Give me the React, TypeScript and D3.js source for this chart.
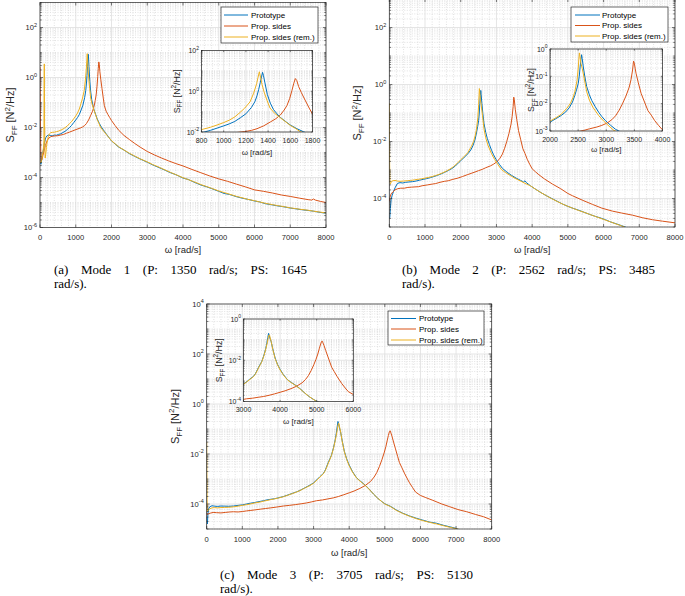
import React, { useEffect, useRef } from "react";
import * as d3 from "d3";

type Pt = [number, number];

// ---------- Mode 1 ----------
const mode1Prototype: Pt[] = [
  [0, 4.2e-4], [15, 3.6e-4], [30, 3.4e-4], [50, 5.5e-4], [75, 9e-4], [100, 1.4e-3], [130, 2.6e-3], [160, 3.9e-3],
  [200, 4.7e-3], [240, 5.0e-3], [290, 4.8e-3], [340, 4.6e-3], [400, 5.0e-3], [460, 4.9e-3], [520, 5.3e-3],
  [580, 5.6e-3], [640, 6.3e-3], [700, 7.0e-3], [760, 8.2e-3], [820, 9.8e-3], [880, 1.2e-2], [940, 1.55e-2],
  [1000, 2.0e-2], [1050, 2.5e-2], [1100, 3.3e-2], [1150, 5.0e-2], [1200, 7.8e-2], [1250, 0.16], [1280, 0.3],
  [1300, 0.6], [1315, 1.2], [1330, 2.8], [1342, 5.5], [1350, 8.5], [1358, 6.0], [1370, 2.8], [1393, 0.7],
  [1420, 0.26], [1447, 0.13], [1480, 0.078], [1510, 0.052], [1560, 0.032], [1600, 0.022], [1660, 0.0145],
  [1720, 0.0102], [1800, 7.0e-3], [1900, 4.5e-3], [2000, 2.9e-3], [2100, 2.2e-3], [2200, 1.65e-3],
  [2350, 1.25e-3], [2500, 9.0e-4], [2650, 7.0e-4], [2800, 5.5e-4], [3000, 4.1e-4], [3150, 3.2e-4],
  [3300, 2.6e-4], [3500, 1.95e-4], [3650, 1.55e-4], [3800, 1.3e-4], [4000, 9.5e-5], [4150, 8.3e-5],
  [4300, 6.6e-5], [4500, 5.0e-5], [4650, 4.3e-5], [4800, 3.6e-5], [5000, 2.8e-5], [5150, 2.3e-5],
  [5300, 2.1e-5], [5500, 1.7e-5], [5650, 1.5e-5], [5800, 1.35e-5], [6000, 1.15e-5], [6150, 1.05e-5],
  [6300, 9.0e-6], [6500, 8.0e-6], [6650, 7.3e-6], [6800, 6.8e-6], [7000, 6.0e-6], [7150, 5.6e-6],
  [7300, 5.2e-6], [7500, 4.8e-6], [7650, 4.5e-6], [7800, 4.1e-6], [8000, 3.7e-6],
];
const mode1PropSides: Pt[] = [
  [0, 2.6], [6, 0.3], [12, 0.02], [20, 1.5e-3], [30, 4.5e-4], [50, 5.0e-4], [80, 7.5e-4], [110, 1.1e-3],
  [150, 1.9e-3], [200, 3.0e-3], [250, 3.8e-3], [300, 4.3e-3], [360, 4.5e-3], [420, 4.6e-3], [500, 4.7e-3],
  [580, 5.0e-3], [660, 5.3e-3], [740, 5.9e-3], [820, 6.5e-3], [900, 7.2e-3], [980, 8.0e-3], [1060, 8.8e-3],
  [1130, 9.6e-3], [1190, 1.05e-2], [1250, 1.2e-2], [1300, 1.45e-2], [1360, 2.0e-2], [1420, 3.1e-2],
  [1470, 4.5e-2], [1510, 6.8e-2], [1545, 0.12], [1570, 0.2], [1595, 0.45], [1615, 1.1], [1630, 2.3],
  [1645, 4.2], [1658, 3.4], [1675, 1.7], [1700, 0.85], [1733, 0.37], [1770, 0.15], [1800, 0.075],
  [1850, 0.045], [1900, 0.033], [1950, 0.025], [2000, 0.019], [2100, 1.2e-2], [2200, 7.8e-3], [2350, 4.8e-3],
  [2500, 3.3e-3], [2650, 2.3e-3], [2800, 1.65e-3], [3000, 1.1e-3], [3200, 8.0e-4], [3400, 6.0e-4],
  [3600, 4.6e-4], [3800, 3.6e-4], [4000, 2.9e-4], [4250, 2.1e-4], [4500, 1.55e-4], [4750, 1.15e-4],
  [5000, 8.8e-5], [5250, 7.0e-5], [5500, 5.4e-5], [5750, 4.2e-5], [6000, 3.2e-5], [6250, 2.8e-5],
  [6500, 2.4e-5], [6750, 2.0e-5], [7000, 1.75e-5], [7250, 1.5e-5], [7500, 1.3e-5], [7600, 1.25e-5],
  [7650, 1.38e-5], [7700, 1.25e-5], [7850, 1.1e-5], [8000, 1.0e-5],
];
const mode1PropSidesRem: Pt[] = [
  [0, 4.6e-4], [20, 3.8e-4], [40, 4.6e-4], [60, 6.5e-4], [80, 1.0e-3], [100, 1.7e-3], [110, 3.0e-3],
  [115, 0.8], [120, 3.5], [124, 0.9], [128, 0.02], [135, 1.6e-3], [145, 6.0e-4], [160, 8.5e-4], [180, 1.6e-3],
  [200, 2.6e-3], [230, 4.2e-3], [260, 5.5e-3], [300, 6.2e-3], [350, 6.4e-3], [400, 6.5e-3], [460, 6.8e-3],
  [520, 7.2e-3], [580, 7.8e-3], [640, 8.6e-3], [700, 9.8e-3], [760, 1.15e-2], [820, 1.4e-2], [880, 1.7e-2],
  [940, 2.2e-2], [1000, 2.9e-2], [1050, 3.8e-2], [1100, 5.5e-2], [1146, 9.0e-2], [1190, 0.15], [1237, 0.3],
  [1270, 0.8], [1297, 2.4], [1310, 5.0], [1321, 9.0], [1332, 5.0], [1345, 2.2], [1363, 0.95], [1390, 0.36],
  [1417, 0.15], [1460, 0.082], [1508, 0.051], [1560, 0.031], [1600, 0.021], [1650, 0.0145], [1688, 0.0105],
  [1750, 8.0e-3], [1800, 6.6e-3], [1900, 4.4e-3], [2000, 2.95e-3], [2100, 2.25e-3], [2200, 1.7e-3],
  [2350, 1.25e-3], [2500, 9.3e-4], [2650, 7.2e-4], [2800, 5.6e-4], [3000, 4.2e-4], [3150, 3.3e-4],
  [3300, 2.7e-4], [3500, 2.0e-4], [3650, 1.6e-4], [3800, 1.3e-4], [4000, 9.8e-5], [4150, 8.2e-5],
  [4300, 6.8e-5], [4500, 5.2e-5], [4650, 4.4e-5], [4800, 3.7e-5], [5000, 2.9e-5], [5150, 2.5e-5],
  [5300, 2.15e-5], [5500, 1.75e-5], [5650, 1.55e-5], [5800, 1.35e-5], [6000, 1.18e-5], [6150, 1.05e-5],
  [6300, 9.3e-6], [6500, 8.2e-6], [6650, 7.5e-6], [6800, 6.9e-6], [7000, 6.1e-6], [7150, 5.7e-6],
  [7300, 5.3e-6], [7500, 4.9e-6], [7650, 4.5e-6], [7800, 4.2e-6], [8000, 3.8e-6],
];

// ---------- Mode 2 ----------
const mode2Prototype: Pt[] = [
  [0, 2.0e-5], [15, 2.2e-5], [30, 4.5e-5], [50, 9.0e-5], [80, 1.3e-4], [120, 1.8e-4], [170, 2.5e-4],
  [230, 3.4e-4], [300, 3.6e-4], [380, 3.5e-4], [460, 3.7e-4], [550, 3.8e-4], [650, 3.9e-4], [750, 4.1e-4],
  [850, 4.4e-4], [950, 4.7e-4], [1050, 5.0e-4], [1150, 5.4e-4], [1250, 5.9e-4], [1350, 6.5e-4], [1450, 7.3e-4],
  [1550, 8.3e-4], [1650, 9.6e-4], [1750, 1.12e-3], [1850, 1.38e-3], [1950, 1.85e-3], [2000, 2.1e-3],
  [2100, 2.8e-3], [2200, 3.7e-3], [2280, 5.0e-3], [2340, 7.0e-3], [2400, 1.15e-2], [2441, 2.0e-2],
  [2475, 3.4e-2], [2502, 5.5e-2], [2520, 0.1], [2535, 0.22], [2550, 0.42], [2562, 0.62], [2572, 0.45],
  [2592, 0.22], [2620, 0.095], [2653, 0.042], [2700, 0.021], [2743, 0.013], [2800, 8.0e-3], [2864, 4.9e-3],
  [2920, 3.4e-3], [2985, 2.4e-3], [3080, 1.6e-3], [3166, 1.15e-3], [3300, 8.3e-4], [3420, 6.5e-4],
  [3550, 5.2e-4], [3680, 4.3e-4], [3760, 3.8e-4], [3800, 4.2e-4], [3840, 3.6e-4], [3950, 2.8e-4],
  [4100, 2.1e-4], [4250, 1.6e-4], [4400, 1.25e-4], [4550, 1.0e-4], [4700, 8.0e-5], [4850, 6.4e-5],
  [5000, 5.3e-5], [5150, 4.5e-5], [5300, 3.9e-5], [5450, 3.3e-5], [5600, 2.8e-5], [5750, 2.4e-5],
  [5900, 2.1e-5], [6050, 1.8e-5], [6200, 1.5e-5], [6350, 1.3e-5], [6500, 1.12e-5], [6650, 9.5e-6],
];
const mode2PropSides: Pt[] = [
  [0, 8e-5], [20, 1.1e-4], [50, 1.45e-4], [100, 1.7e-4], [160, 2.0e-4], [230, 2.2e-4], [320, 2.3e-4],
  [420, 2.3e-4], [520, 2.45e-4], [620, 2.5e-4], [720, 2.55e-4], [820, 2.6e-4], [920, 2.8e-4], [1070, 3.0e-4],
  [1200, 3.2e-4], [1300, 3.35e-4], [1420, 3.7e-4], [1540, 4.0e-4], [1650, 4.2e-4], [1780, 4.7e-4],
  [1920, 5.2e-4], [2050, 5.9e-4], [2180, 6.8e-4], [2290, 7.6e-4], [2400, 8.5e-4], [2500, 9.5e-4],
  [2600, 1.05e-3], [2700, 1.2e-3], [2834, 1.4e-3], [2920, 1.6e-3], [3015, 1.95e-3], [3100, 2.6e-3],
  [3166, 3.6e-3], [3230, 5.8e-3], [3287, 9.8e-3], [3350, 1.9e-2], [3408, 4.0e-2], [3440, 7.5e-2],
  [3468, 0.17], [3485, 0.36], [3500, 0.3], [3515, 0.19], [3529, 0.13], [3570, 0.058], [3619, 0.024],
  [3680, 1.15e-2], [3740, 5.6e-3], [3800, 3.8e-3], [3861, 2.4e-3], [3930, 1.6e-3], [4000, 1.1e-3],
  [4100, 8.5e-4], [4190, 6.8e-4], [4350, 4.8e-4], [4570, 3.2e-4], [4800, 2.2e-4], [5000, 1.5e-4],
  [5130, 1.25e-4], [5400, 8.8e-5], [5690, 6.2e-5], [5950, 4.6e-5], [6250, 3.6e-5], [6500, 3.1e-5],
  [6810, 2.6e-5], [7100, 2.1e-5], [7370, 1.8e-5], [7650, 1.6e-5], [8000, 1.4e-5],
];
const mode2PropSidesRem: Pt[] = [
  [0, 0.22], [4, 0.02], [10, 1.5e-3], [18, 3.5e-4], [30, 3.2e-4], [60, 4.0e-4], [100, 4.2e-4], [160, 4.3e-4],
  [230, 4.1e-4], [300, 4.0e-4], [400, 4.1e-4], [500, 4.2e-4], [600, 4.3e-4], [700, 4.5e-4], [800, 4.7e-4],
  [900, 4.9e-4], [1000, 5.2e-4], [1100, 5.5e-4], [1200, 5.9e-4], [1300, 6.4e-4], [1400, 7.1e-4],
  [1500, 8.0e-4], [1600, 9.2e-4], [1700, 1.08e-3], [1800, 1.32e-3], [1900, 1.7e-3], [2000, 2.3e-3],
  [2100, 3.0e-3], [2200, 4.1e-3], [2300, 6.8e-3], [2360, 1.0e-2], [2410, 1.7e-2], [2441, 2.7e-2],
  [2480, 7.0e-2], [2502, 0.2], [2512, 0.4], [2522, 0.72], [2532, 0.55], [2550, 0.3], [2574, 0.19],
  [2610, 0.08], [2653, 0.027], [2700, 0.0135], [2760, 7.5e-3], [2864, 3.7e-3], [2950, 2.35e-3],
  [3050, 1.5e-3], [3136, 1.05e-3], [3250, 8.2e-4], [3380, 6.5e-4], [3520, 5.1e-4], [3660, 4.2e-4],
  [3800, 3.4e-4], [3950, 2.8e-4], [4100, 2.1e-4], [4250, 1.6e-4], [4400, 1.25e-4], [4550, 9.8e-5],
  [4700, 7.9e-5], [4850, 6.4e-5], [5000, 5.3e-5], [5150, 4.5e-5], [5300, 3.8e-5], [5450, 3.3e-5],
  [5600, 2.8e-5], [5750, 2.4e-5], [5900, 2.05e-5], [6050, 1.75e-5], [6200, 1.5e-5], [6350, 1.28e-5],
  [6500, 1.1e-5], [6620, 9.5e-6],
];

// ---------- Mode 3 ----------
const mode3Prototype: Pt[] = [
  [0, 3.0e-5], [10, 2.0e-5], [20, 1.6e-5], [35, 4.2e-5], [55, 6.5e-5], [90, 7.8e-5], [150, 8.5e-5],
  [220, 8.2e-5], [300, 8.0e-5], [400, 8.3e-5], [500, 8.2e-5], [620, 8.1e-5], [750, 8.3e-5], [880, 8.8e-5],
  [1000, 9.2e-5], [1120, 1.0e-4], [1220, 1.07e-4], [1350, 1.15e-4], [1500, 1.27e-4], [1600, 1.36e-4],
  [1690, 1.46e-4], [1800, 1.55e-4], [1900, 1.62e-4], [2000, 1.75e-4], [2150, 1.98e-4], [2280, 2.3e-4],
  [2400, 2.65e-4], [2520, 3.05e-4], [2620, 3.5e-4], [2750, 4.4e-4], [2900, 5.7e-4], [3000, 7.0e-4],
  [3100, 9.5e-4], [3180, 1.25e-3], [3273, 1.65e-3], [3330, 2.3e-3], [3410, 4.5e-3], [3460, 6.5e-3],
  [3500, 8.8e-3], [3560, 1.8e-2], [3609, 3.8e-2], [3640, 7.0e-2], [3665, 0.13], [3685, 0.2], [3700, 0.17],
  [3720, 0.12], [3755, 0.08], [3800, 0.036], [3864, 0.0128], [3930, 6.3e-3], [4000, 3.6e-3], [4091, 2.0e-3],
  [4200, 1.15e-3], [4300, 8.5e-4], [4409, 6.4e-4], [4550, 4.1e-4], [4682, 2.5e-4], [4800, 1.7e-4],
  [4900, 1.3e-4], [5000, 1.02e-4], [5150, 8.2e-5], [5320, 5.8e-5], [5500, 4.3e-5], [5700, 3.3e-5],
  [5880, 2.7e-5], [6050, 2.3e-5], [6250, 1.9e-5], [6450, 1.7e-5], [6650, 1.4e-5], [6850, 1.2e-5],
  [7010, 1.05e-5], [7080, 9.5e-6],
];
const mode3PropSides: Pt[] = [
  [0, 4.5e-5], [15, 3.8e-5], [40, 4.0e-5], [100, 4.3e-5], [180, 4.6e-5], [280, 4.5e-5], [400, 4.4e-5],
  [520, 4.6e-5], [650, 4.8e-5], [750, 4.9e-5], [880, 4.8e-5], [1000, 5.0e-5], [1120, 5.3e-5], [1220, 5.5e-5],
  [1350, 5.8e-5], [1500, 6.2e-5], [1650, 6.6e-5], [1800, 7.0e-5], [1950, 7.5e-5], [2150, 8.3e-5],
  [2320, 8.8e-5], [2500, 9.5e-5], [2650, 1.02e-4], [2800, 1.1e-4], [2950, 1.22e-4], [3080, 1.35e-4],
  [3250, 1.45e-4], [3400, 1.6e-4], [3550, 1.75e-4], [3700, 2.0e-4], [3850, 2.35e-4], [4000, 2.8e-4],
  [4136, 3.3e-4], [4300, 4.2e-4], [4450, 5.5e-4], [4600, 8.0e-4], [4700, 1.2e-3], [4773, 1.8e-3],
  [4850, 3.2e-3], [4920, 6.0e-3], [4980, 1.1e-2], [5030, 2.0e-2], [5070, 3.6e-2], [5100, 5.5e-2],
  [5130, 8.0e-2], [5150, 8.5e-2], [5170, 7.0e-2], [5200, 5.2e-2], [5245, 3.0e-2], [5300, 1.6e-2],
  [5360, 8.0e-3], [5409, 4.6e-3], [5480, 2.8e-3], [5560, 1.6e-3], [5682, 7.5e-4], [5780, 4.5e-4],
  [5864, 3.0e-4], [6000, 2.2e-4], [6150, 1.8e-4], [6350, 1.4e-4], [6600, 1.0e-4], [6820, 7.8e-5],
  [7050, 6.0e-5], [7300, 4.9e-5], [7550, 3.8e-5], [7770, 3.1e-5], [8000, 2.3e-5],
];
const mode3PropSidesRem: Pt[] = [
  [0, 3.0e-2], [4, 2.0e-3], [10, 1.5e-4], [20, 5.0e-5], [40, 5.6e-5], [80, 6.4e-5], [150, 7.0e-5],
  [220, 7.2e-5], [300, 7.0e-5], [400, 7.2e-5], [500, 7.3e-5], [620, 7.4e-5], [750, 7.7e-5], [880, 8.2e-5],
  [1000, 8.8e-5], [1120, 9.4e-5], [1220, 1.0e-4], [1350, 1.1e-4], [1500, 1.2e-4], [1600, 1.3e-4],
  [1690, 1.38e-4], [1800, 1.5e-4], [1900, 1.6e-4], [2000, 1.72e-4], [2150, 1.95e-4], [2280, 2.25e-4],
  [2400, 2.6e-4], [2520, 3.0e-4], [2620, 3.45e-4], [2750, 4.3e-4], [2900, 5.5e-4], [3000, 6.8e-4],
  [3100, 9.2e-4], [3180, 1.2e-3], [3273, 1.6e-3], [3330, 2.2e-3], [3410, 4.2e-3], [3460, 6.2e-3],
  [3500, 8.5e-3], [3560, 1.7e-2], [3609, 3.5e-2], [3650, 7.0e-2], [3680, 0.13], [3700, 0.17], [3712, 0.165],
  [3730, 0.12], [3760, 0.075], [3800, 0.034], [3864, 0.0122], [3930, 6.0e-3], [4000, 3.4e-3], [4091, 1.9e-3],
  [4200, 1.12e-3], [4300, 8.3e-4], [4409, 6.2e-4], [4550, 4.0e-4], [4682, 2.5e-4], [4800, 1.7e-4],
  [4900, 1.3e-4], [5000, 1.0e-4], [5150, 8.0e-5], [5320, 5.6e-5], [5500, 4.2e-5], [5700, 3.2e-5],
  [5880, 2.6e-5], [6050, 2.2e-5], [6250, 1.85e-5], [6450, 1.6e-5], [6650, 1.35e-5], [6850, 1.15e-5],
  [7010, 1.02e-5], [7100, 9.5e-6],
];

// ---------- labels / ticks ----------
const seriesNames = ["Prototype", "Prop. sides", "Prop. sides (rem.)"];
const seriesColors = ["#0072BD", "#D95319", "#EDB120"];
const mainXTicks = [0, 1000, 2000, 3000, 4000, 5000, 6000, 7000, 8000];
const insetXTicksA = [800, 1000, 1200, 1400, 1600, 1800];
const insetXTicksB = [2000, 2500, 3000, 3500, 4000];
const insetXTicksC = [3000, 4000, 5000, 6000];
const mainYExpA = [-6, -4, -2, 0, 2];
const mainYExpB = [-4, -2, 0, 2];
const mainYExpC = [-4, -2, 0, 2, 4];
const insetYExpA = [-2, 0, 2];
const insetYExpB = [-3, -2, -1, 0];
const insetYExpC = [-4, -2, 0];
const captionA = ["(a) Mode 1 (P: 1350 rad/s; PS: 1645", "rad/s)."];
const captionB = ["(b) Mode 2 (P: 2562 rad/s; PS: 3485", "rad/s)."];
const captionC = ["(c) Mode 3 (P: 3705 rad/s; PS: 5130", "rad/s)."];

const FONT = "'Liberation Sans', Arial, Helvetica, sans-serif";
const SERIF = "'Liberation Serif', 'Times New Roman', serif";
const AXC = "#262626";
const MAJOR_GRID = "#dedede";
const MINOR_GRID = "#cfcfcf";

interface AxCfg {
  id: string;
  x0: number; x1: number; y0: number; y1: number;
  xDom: [number, number]; xTicks: number[]; xMinor: number;
  yExp: [number, number]; yLabels: number[];
  series: Pt[][];
  tickFont: number; labelFont: number; yLabelFont: number; tickLen: number;
  xTickY: number; xLabelY: number; yLabelX: number; yGap: number;
}

function drawAxes(root: any, c: AxCfg) {
  const g = root.append("g");
  const x = d3.scaleLinear().domain(c.xDom).range([c.x0, c.x1]);
  const y = d3.scaleLog().domain([Math.pow(10, c.yExp[0]), Math.pow(10, c.yExp[1])]).range([c.y1, c.y0]);
  const w = c.x1 - c.x0, h = c.y1 - c.y0;
  g.append("rect").attr("x", c.x0).attr("y", c.y0).attr("width", w).attr("height", h).attr("fill", "#fff");

  const minorY: number[] = [];
  const majorY: number[] = [];
  for (let k = c.yExp[0]; k <= c.yExp[1]; k++) {
    for (let m = 1; m <= 9; m++) {
      if (k === c.yExp[1] && m > 1) break;
      const v = m * Math.pow(10, k);
      if (m === 1 && c.yLabels.includes(k)) majorY.push(v);
      else minorY.push(v);
    }
  }
  const minorX = d3.range(c.xDom[0], c.xDom[1] + 1e-6, c.xMinor).filter((v) => !c.xTicks.includes(v));

  // minor grid
  g.append("g").selectAll("line").data(minorY).join("line")
    .attr("x1", c.x0).attr("x2", c.x1).attr("y1", (d: number) => y(d)).attr("y2", (d: number) => y(d))
    .attr("stroke", MINOR_GRID).attr("stroke-width", 0.6).attr("stroke-dasharray", "1,1.5");
  g.append("g").selectAll("line").data(minorX).join("line")
    .attr("y1", c.y0).attr("y2", c.y1).attr("x1", (d: number) => x(d)).attr("x2", (d: number) => x(d))
    .attr("stroke", MINOR_GRID).attr("stroke-width", 0.6).attr("stroke-dasharray", "1,1.5");
  // major grid
  g.append("g").selectAll("line").data(majorY).join("line")
    .attr("x1", c.x0).attr("x2", c.x1).attr("y1", (d: number) => y(d)).attr("y2", (d: number) => y(d))
    .attr("stroke", MAJOR_GRID).attr("stroke-width", 0.8);
  g.append("g").selectAll("line").data(c.xTicks).join("line")
    .attr("y1", c.y0).attr("y2", c.y1).attr("x1", (d: number) => x(d)).attr("x2", (d: number) => x(d))
    .attr("stroke", MAJOR_GRID).attr("stroke-width", 0.8);

  // data lines
  const clipId = "clip-" + c.id;
  g.append("clipPath").attr("id", clipId).append("rect")
    .attr("x", c.x0).attr("y", c.y0).attr("width", w).attr("height", h);
  const line = d3.line<Pt>().x((d) => x(d[0])).y((d) => y(d[1]));
  const lg = g.append("g").attr("clip-path", `url(#${clipId})`);
  c.series.forEach((s, i) => {
    lg.append("path").attr("d", line(s)).attr("fill", "none")
      .attr("stroke", seriesColors[i]).attr("stroke-width", 1).attr("stroke-linejoin", "round");
  });

  // frame
  g.append("rect").attr("x", c.x0).attr("y", c.y0).attr("width", w).attr("height", h)
    .attr("fill", "none").attr("stroke", AXC).attr("stroke-width", 0.7);

  // ticks
  const tk = g.append("g").attr("stroke", AXC).attr("stroke-width", 0.6);
  c.xTicks.forEach((t) => {
    const px = x(t);
    tk.append("line").attr("x1", px).attr("x2", px).attr("y1", c.y1).attr("y2", c.y1 - c.tickLen);
    tk.append("line").attr("x1", px).attr("x2", px).attr("y1", c.y0).attr("y2", c.y0 + c.tickLen);
  });
  majorY.forEach((v) => {
    const py = y(v);
    tk.append("line").attr("x1", c.x0).attr("x2", c.x0 + c.tickLen).attr("y1", py).attr("y2", py);
    tk.append("line").attr("x1", c.x1).attr("x2", c.x1 - c.tickLen).attr("y1", py).attr("y2", py);
  });
  minorY.forEach((v) => {
    const py = y(v);
    tk.append("line").attr("x1", c.x0).attr("x2", c.x0 + c.tickLen * 0.6).attr("y1", py).attr("y2", py);
    tk.append("line").attr("x1", c.x1).attr("x2", c.x1 - c.tickLen * 0.6).attr("y1", py).attr("y2", py);
  });

  // tick labels
  const tl = g.append("g").attr("font-family", FONT).attr("fill", AXC);
  c.xTicks.forEach((t) => {
    tl.append("text").attr("x", x(t)).attr("y", c.xTickY).attr("text-anchor", "middle")
      .attr("font-size", c.tickFont).text(String(t));
  });
  c.yLabels.forEach((e) => {
    const t = tl.append("text").attr("x", c.x0 - c.yGap).attr("y", y(Math.pow(10, e)) + c.tickFont * 0.36)
      .attr("text-anchor", "end").attr("font-size", c.tickFont);
    t.append("tspan").text("10");
    t.append("tspan").attr("dy", -c.tickFont * 0.45).attr("font-size", c.tickFont * 0.72).text(String(e));
  });

  // axis labels
  tl.append("text").attr("x", (c.x0 + c.x1) / 2).attr("y", c.xLabelY).attr("text-anchor", "middle")
    .attr("font-size", c.labelFont).text("\u03C9 [rad/s]");
  const lf = c.yLabelFont;
  const yl = tl.append("text")
    .attr("transform", `translate(${c.yLabelX},${(c.y0 + c.y1) / 2}) rotate(-90)`)
    .attr("text-anchor", "middle").attr("font-size", lf);
  yl.append("tspan").text("S");
  yl.append("tspan").attr("dy", lf * 0.3).attr("font-size", lf * 0.72).text("FF");
  yl.append("tspan").attr("dy", -lf * 0.3).text(" [N");
  yl.append("tspan").attr("dy", -lf * 0.4).attr("font-size", lf * 0.72).text("2");
  yl.append("tspan").attr("dy", lf * 0.4).text("/Hz]");
}

interface LegCfg { x: number; y: number; w: number; h: number; lx0: number; lx1: number; tx: number; rows: number[]; font: number }

function drawLegend(root: any, l: LegCfg) {
  const g = root.append("g");
  g.append("rect").attr("x", l.x).attr("y", l.y).attr("width", l.w).attr("height", l.h)
    .attr("fill", "#fff").attr("stroke", AXC).attr("stroke-width", 0.7);
  seriesNames.forEach((name, i) => {
    g.append("line").attr("x1", l.lx0).attr("x2", l.lx1).attr("y1", l.rows[i]).attr("y2", l.rows[i])
      .attr("stroke", seriesColors[i]).attr("stroke-width", 1);
    g.append("text").attr("x", l.tx).attr("y", l.rows[i] + l.font * 0.35).attr("font-family", FONT)
      .attr("font-size", l.font).attr("fill", "#000").text(name);
  });
}

function drawCaption(root: any, lines: string[], x: number, y: number, width: number) {
  const g = root.append("g").attr("font-family", SERIF).attr("font-size", 13).attr("fill", "#000");
  const t1 = g.append("text").attr("x", x).attr("y", y).text(lines[0]);
  const node = t1.node() as SVGTextElement;
  const natural = node.getComputedTextLength();
  const gaps = lines[0].split(" ").length - 1;
  if (gaps > 0 && natural < width) t1.style("word-spacing", `${(width - natural) / gaps}px`);
  g.append("text").attr("x", x).attr("y", y + 13.8).text(lines[1]);
}

export default function App() {
  const ref = useRef<SVGSVGElement>(null);
  useEffect(() => {
    const svg = d3.select(ref.current);
    svg.selectAll("*").remove();
    svg.append("rect").attr("width", 685).attr("height", 596).attr("fill", "#fff");

    const mainCommon = { xDom: [0, 8000] as [number, number], xTicks: mainXTicks, xMinor: 200, tickFont: 7.6, labelFont: 9.5, yLabelFont: 11, tickLen: 3, yGap: 3 };
    const insetCommon = { tickFont: 7, labelFont: 8, yLabelFont: 8.8, tickLen: 1.6, yGap: 2.5 };

    // Panel (a)
    drawAxes(svg, { id: "a", ...mainCommon, x0: 40, x1: 326, y0: 2.5, y1: 227.5, yExp: [-6, 3], yLabels: mainYExpA,
      series: [mode1Prototype, mode1PropSides, mode1PropSidesRem], xTickY: 240, xLabelY: 253, yLabelX: 14 });
    drawLegend(svg, { x: 221, y: 7, w: 97, h: 36, lx0: 224, lx1: 248, tx: 251, rows: [15, 26, 37], font: 8 });
    drawAxes(svg, { id: "ai", ...insetCommon, x0: 201.5, x1: 312.5, y0: 50.5, y1: 132, xDom: [800, 1800], xTicks: insetXTicksA,
      xMinor: 50, yExp: [-2, 2], yLabels: insetYExpA, series: [mode1Prototype, mode1PropSides, mode1PropSidesRem],
      xTickY: 142.5, xLabelY: 155, yLabelX: 179.5 });
    drawCaption(svg, captionA, 54, 274, 253);

    // Panel (b)
    drawAxes(svg, { id: "b", ...mainCommon, x0: 389.3, x1: 675, y0: -1, y1: 227, yExp: [-5, 3], yLabels: mainYExpB,
      series: [mode2Prototype, mode2PropSides, mode2PropSidesRem], xTickY: 240, xLabelY: 253, yLabelX: 361 });
    drawLegend(svg, { x: 571, y: 7, w: 97, h: 35, lx0: 575, lx1: 600, tx: 602, rows: [15, 25.5, 36], font: 8 });
    drawAxes(svg, { id: "bi", ...insetCommon, x0: 550, x1: 662.5, y0: 49, y1: 131, xDom: [2000, 4000], xTicks: insetXTicksB,
      xMinor: 100, yExp: [-3, 0], yLabels: insetYExpB, series: [mode2Prototype, mode2PropSides, mode2PropSidesRem],
      xTickY: 141.5, xLabelY: 151.5, yLabelX: 534 });
    drawCaption(svg, captionB, 402, 274, 253);

    // Panel (c)
    drawAxes(svg, { id: "c", ...mainCommon, x0: 206.7, x1: 491.7, y0: 304, y1: 529, yExp: [-5, 4], yLabels: mainYExpC,
      series: [mode3Prototype, mode3PropSides, mode3PropSidesRem], xTickY: 541.5, xLabelY: 556, yLabelX: 178.5 });
    drawLegend(svg, { x: 388, y: 311, w: 96, h: 34, lx0: 391, lx1: 416, tx: 419, rows: [318.5, 329, 340], font: 8 });
    drawAxes(svg, { id: "ci", ...insetCommon, x0: 243.5, x1: 353.3, y0: 319, y1: 401.5, xDom: [3000, 6000], xTicks: insetXTicksC,
      xMinor: 200, yExp: [-4, 0], yLabels: insetYExpC, series: [mode3Prototype, mode3PropSides, mode3PropSidesRem],
      xTickY: 411.5, xLabelY: 424, yLabelX: 222 });
    drawCaption(svg, captionC, 220, 579, 253);
  }, []);
  return (
    <svg ref={ref} width={685} height={596} style={{ position: "absolute", left: 0, top: 0, display: "block" }} />
  );
}
